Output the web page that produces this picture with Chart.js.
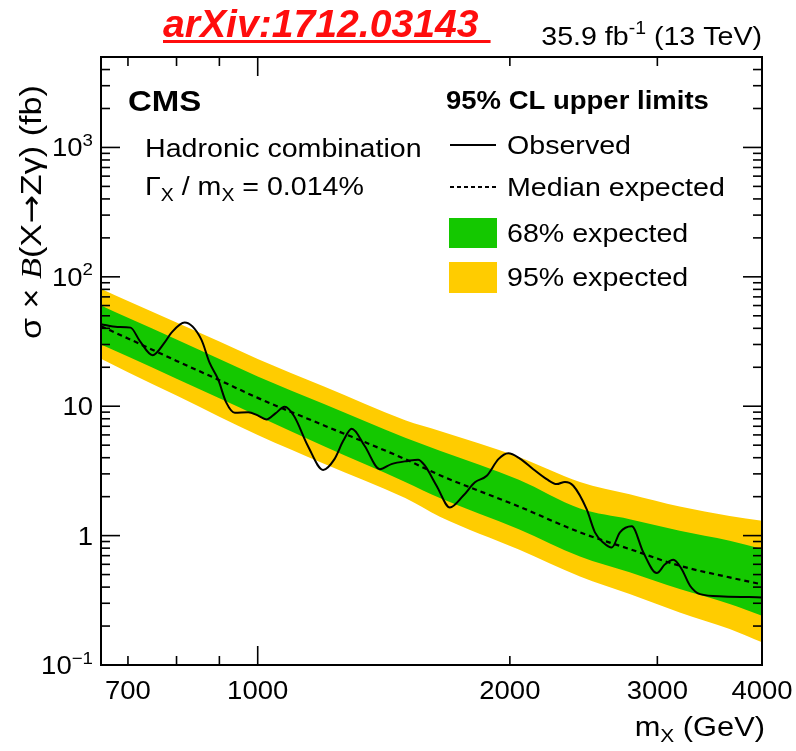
<!DOCTYPE html>
<html lang="en">
<head>
<meta charset="UTF-8" />
<title>CMS X to Z gamma - hadronic combination limits</title>
<script src="https://cdn.jsdelivr.net/npm/chart.js@4.4.1/dist/chart.umd.min.js"></script>
<style>
  html, body { margin: 0; padding: 0; background: #fff; }
  canvas { display: block; }
</style>
</head>
<body>
<canvas id="limits" width="796" height="751"></canvas>
<script>
  // expected limit bands (fb)
  const massGrid   = [650, 700, 800, 900, 1000, 1200, 1500, 1650, 2050, 2425, 2780, 3190, 3660, 4000];
  const expMedian  = [41.5, 33.4, 22.4, 15.9, 11.6, 7.1, 3.9, 2.93, 1.68, 1.06, 0.787, 0.585, 0.475, 0.42];
  const exp68Up    = [60, 48.2, 32.8, 23.2, 17, 10.4, 5.7, 4.52, 2.7, 1.62, 1.34, 1.09, 0.912, 0.787];
  const exp68Down  = [30, 24.2, 16.3, 11.5, 8.4, 4.9, 2.6, 1.95, 1.12, 0.69, 0.52, 0.386, 0.296, 0.24];
  const exp95Up    = [81, 65, 44.3, 31.6, 23.2, 14.2, 7.8, 6.44, 4.05, 2.6, 2.09, 1.68, 1.42, 1.30];
  const exp95Down  = [23.3, 18.3, 12.1, 8.3, 6.0, 3.6, 1.95, 1.4, 0.78, 0.484, 0.353, 0.255, 0.19, 0.15];

  // observed limit
  const obsMass  = [650, 680, 705, 723, 749, 774, 789, 818, 856, 876, 897, 917, 939, 974, 1000, 1024, 1050, 1077, 1105, 1148,
                    1197, 1235, 1265, 1295, 1342, 1399, 1444, 1512, 1554, 1582, 1635, 1696, 1759, 1817, 1877, 1938, 1991, 2056,
                    2133, 2213, 2275, 2327, 2381, 2470, 2527, 2585, 2647, 2707, 2796, 2887, 2995, 3064, 3135, 3208, 3282, 3374, 3597, 4000];
  const obsLimit = [43, 41, 40.5, 32, 24.8, 31, 37, 44.3, 33, 21.7, 16.1, 10.7, 8.9, 9.0, 8.5, 7.9, 8.8, 9.9, 8.4, 4.93,
                    3.22, 3.9, 5.4, 6.7, 4.93, 3.26, 3.57, 3.78, 3.86, 3.5, 2.43, 1.65, 2.03, 2.58, 2.9, 3.9, 4.33, 3.94,
                    3.26, 2.73, 2.5, 2.6, 2.43, 1.6, 1.06, 0.886, 0.81, 1.06, 1.18, 0.74, 0.513, 0.6, 0.65, 0.55, 0.41, 0.353, 0.339, 0.333];

  // axis labels
  const xTickValues = [700, 1000, 2000, 3000, 4000];
  const xTickLabels = ['700', '1000', '2000', '3000', '4000'];
  const xTickMarks  = [700, 800, 900, 1000, 2000, 3000];
  const yTickValues = [0.1, 1, 10, 100, 1000];
  const yTickLabels = ['10^−1', '1', '10', '10^2', '10^3'];

  const GREEN = '#14c800';
  const YELLOW = '#ffcc00';
  const FONT = '"Liberation Sans", Arial, Helvetica, sans-serif';
  const SX = 1.1; // the reference text is a bit wide

  const pts = (xs, ys) => xs.map((x, i) => ({ x: x, y: ys[i] }));

  // draw a run of text pieces: [{t, sup, sub, bold, italic, family}]
  function runs(ctx, parts, x, y, size, align, stretch) {
    const sx = stretch === undefined ? SX : stretch;
    const fontOf = p => {
      const s = (p.sup || p.sub) ? size * 0.68 : size;
      return (p.italic ? 'italic ' : '') + (p.bold ? 'bold ' : '') + s + 'px ' + (p.family || FONT);
    };
    let w = 0;
    parts.forEach(p => { ctx.font = fontOf(p); w += ctx.measureText(p.t).width; });
    let x0 = x;
    if (align === 'right') x0 = x - w * sx;
    else if (align === 'center') x0 = x - w * sx / 2;
    ctx.save();
    ctx.translate(x0, y);
    ctx.scale(sx, 1);
    ctx.textAlign = 'left';
    ctx.textBaseline = 'alphabetic';
    let cx = 0;
    parts.forEach(p => {
      ctx.font = fontOf(p);
      const dy = p.sup ? -size * 0.42 : (p.sub ? size * 0.22 : 0);
      ctx.fillText(p.t, cx, dy);
      cx += ctx.measureText(p.t).width;
    });
    ctx.restore();
    return w * sx;
  }

  function powLabel(s) {
    const k = s.indexOf('^');
    if (k < 0) return [{ t: s }];
    return [{ t: s.slice(0, k) }, { t: s.slice(k + 1), sup: true }];
  }

  function seg(ctx, x1, y1, x2, y2) {
    ctx.beginPath();
    ctx.moveTo(x1, y1);
    ctx.lineTo(x2, y2);
    ctx.stroke();
  }

  const decorations = {
    id: 'decorations',
    afterDraw(chart) {
      const { ctx, chartArea: a, scales: { x, y } } = chart;
      ctx.save();
      ctx.fillStyle = '#000';
      ctx.strokeStyle = '#000';

      // frame
      ctx.lineWidth = 2;
      ctx.strokeRect(a.left, a.top, a.right - a.left, a.bottom - a.top);

      // y ticks, inward, both sides
      ctx.lineWidth = 1.6;
      for (let e = -1; e <= 3; e++) {
        for (let k = 1; k <= 9; k++) {
          const v = k * Math.pow(10, e);
          if (v >= y.max) break;
          const py = y.getPixelForValue(v);
          const len = k === 1 ? 19 : 9;
          seg(ctx, a.left, py, a.left + len, py);
          seg(ctx, a.right, py, a.right - len, py);
        }
      }
      // x ticks, inward, top and bottom
      xTickMarks.forEach(v => {
        const px = x.getPixelForValue(v);
        const len = v === 1000 ? 19 : 9;
        seg(ctx, px, a.bottom, px, a.bottom - len);
        seg(ctx, px, a.top, px, a.top + len);
      });

      // tick labels
      yTickValues.forEach((v, i) => {
        runs(ctx, powLabel(yTickLabels[i]), a.left - 8, y.getPixelForValue(v) + 9, 25, 'right');
      });
      xTickValues.forEach((v, i) => {
        runs(ctx, [{ t: xTickLabels[i] }], x.getPixelForValue(v), a.bottom + 34, 25, 'center');
      });

      // axis titles
      runs(ctx, [{ t: 'm' }, { t: 'X', sub: true }, { t: ' (GeV)' }], a.right + 3, 736, 28, 'right');
      ctx.save();
      ctx.translate(41, 212);
      ctx.rotate(-Math.PI / 2);
      runs(ctx, [
        { t: 'σ × ' },
        { t: 'B', italic: true, family: '"Liberation Serif", serif' },
        { t: '(X' },
        { t: '→', family: '"DejaVu Sans", sans-serif' },
        { t: 'Zγ) (fb)' }
      ], 0, 0, 30, 'center', 1.14);
      ctx.restore();

      // header
      runs(ctx, [{ t: '35.9 fb' }, { t: '-1', sup: true }, { t: ' (13 TeV)' }], a.right, 45, 26, 'right');
      ctx.fillStyle = '#ff0d0d';
      const w = runs(ctx, [{ t: 'arXiv:1712.03143', bold: true, italic: true }], 163, 37, 38, 'left', 1.03);
      ctx.fillRect(163, 40, w + 12, 3);
      ctx.fillStyle = '#000';

      // inside labels
      runs(ctx, [{ t: 'CMS', bold: true }], 128, 111, 30, 'left');
      runs(ctx, [{ t: 'Hadronic combination' }], 145, 157, 26, 'left');
      runs(ctx, [{ t: 'Γ' }, { t: 'X', sub: true }, { t: ' / m' }, { t: 'X', sub: true }, { t: ' = 0.014%' }], 145, 195, 26, 'left');

      // legend
      runs(ctx, [{ t: '95% CL upper limits', bold: true }], 446, 109, 25, 'left');
      ctx.lineWidth = 2;
      seg(ctx, 450, 145, 496, 145);
      ctx.setLineDash([4, 3]);
      seg(ctx, 450, 187, 496, 187);
      ctx.setLineDash([]);
      ctx.fillStyle = GREEN;
      ctx.fillRect(449, 218, 48, 30);
      ctx.fillStyle = YELLOW;
      ctx.fillRect(449, 262, 48, 31);
      ctx.fillStyle = '#000';
      runs(ctx, [{ t: 'Observed' }], 507, 154, 26, 'left');
      runs(ctx, [{ t: 'Median expected' }], 507, 196, 26, 'left');
      runs(ctx, [{ t: '68% expected' }], 507, 242, 26, 'left');
      runs(ctx, [{ t: '95% expected' }], 507, 286, 26, 'left');
      ctx.restore();
    }
  };

  const band = (data, color, fill) => ({
    data: data,
    borderWidth: 0,
    borderColor: color || 'rgba(0,0,0,0)',
    backgroundColor: color || 'rgba(0,0,0,0)',
    pointRadius: 0,
    cubicInterpolationMode: 'monotone',
    fill: fill
  });

  new Chart(document.getElementById('limits'), {
    type: 'line',
    data: {
      datasets: [
        { label: 'Observed', data: pts(obsMass, obsLimit), borderColor: '#000', borderWidth: 2,
          pointRadius: 0, cubicInterpolationMode: 'monotone', fill: false },
        { label: 'Median expected', data: pts(massGrid, expMedian), borderColor: '#000', borderWidth: 2.2,
          borderDash: [5, 4], pointRadius: 0, cubicInterpolationMode: 'monotone', fill: false },
        Object.assign(band(pts(massGrid, exp68Up), GREEN, '+1'), { label: '68% expected' }),
        Object.assign(band(pts(massGrid, exp68Down), null, false), { label: '68% low' }),
        Object.assign(band(pts(massGrid, exp95Up), YELLOW, '+1'), { label: '95% expected' }),
        Object.assign(band(pts(massGrid, exp95Down), null, false), { label: '95% low' })
      ]
    },
    options: {
      responsive: false,
      animation: false,
      layout: { padding: { left: 101, top: 57, right: 34, bottom: 86 } },
      plugins: { legend: { display: false }, tooltip: { enabled: false } },
      scales: {
        x: { type: 'logarithmic', min: 650, max: 4000, display: false },
        y: { type: 'logarithmic', min: 0.1, max: 5000, display: false }
      }
    },
    plugins: [decorations]
  });
</script>
</body>
</html>
